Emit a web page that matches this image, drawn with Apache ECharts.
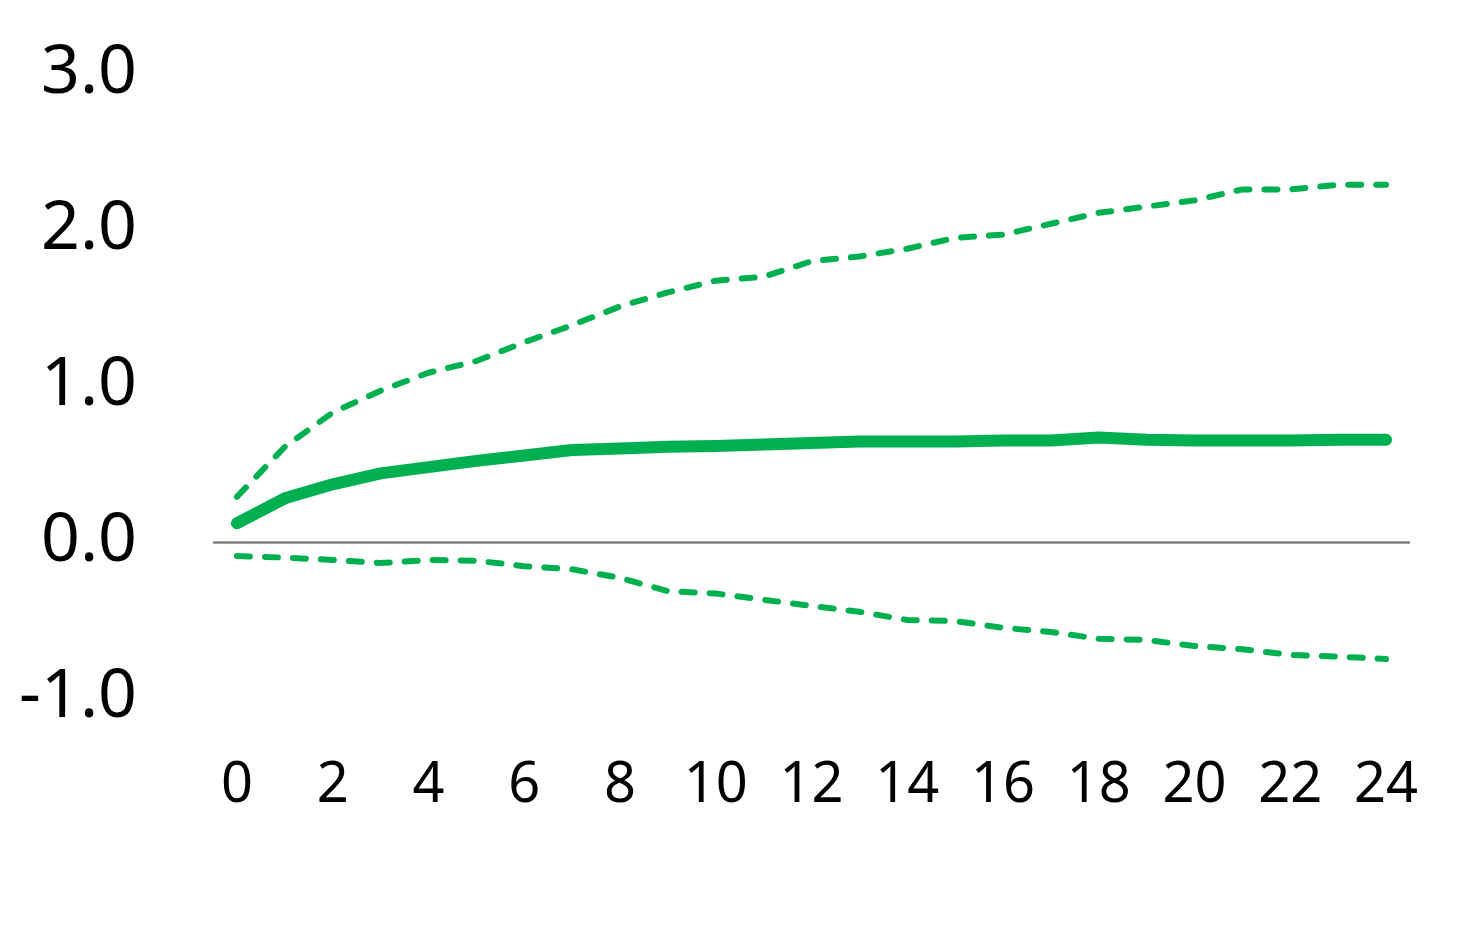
<!DOCTYPE html>
<html>
<head>
<meta charset="utf-8">
<script src="https://cdn.jsdelivr.net/npm/echarts@6/dist/echarts.min.js"></script>
<style>
html,body{margin:0;padding:0;background:#fff;}
#chart{width:1479px;height:948px;}
</style>
</head>
<body>
<div id="chart"></div>
<script>
const periods = ['0','1','2','3','4','5','6','7','8','9','10','11','12','13','14','15','16','17','18','19','20','21','22','23','24'];
const centerLine = [0.12,0.28,0.37,0.44,0.48,0.52,0.555,0.59,0.60,0.61,0.615,0.625,0.635,0.645,0.645,0.645,0.65,0.65,0.67,0.655,0.65,0.65,0.65,0.655,0.655];
const upperBand = [0.29,0.61,0.83,0.97,1.085,1.16,1.28,1.39,1.51,1.60,1.675,1.70,1.80,1.83,1.88,1.95,1.97,2.04,2.11,2.15,2.19,2.26,2.26,2.29,2.29];
const lowerBand = [-0.09,-0.10,-0.115,-0.135,-0.115,-0.12,-0.155,-0.175,-0.23,-0.315,-0.33,-0.37,-0.41,-0.447,-0.50,-0.507,-0.55,-0.577,-0.62,-0.628,-0.667,-0.687,-0.724,-0.735,-0.75];
const yMin = -1, yMax = 3, yStep = 1;

const green = '#00B050';
const chart = echarts.init(document.getElementById('chart'), null, {renderer:'canvas'});
const dashStyle = {color: green, width: 6, type: [13, 15], cap: 'round', join: 'round'};
chart.setOption({
  animation: false,
  grid: {left: 213, right: 69, top: 74, bottom: 250, containLabel: false},
  xAxis: {
    type: 'category',
    data: periods,
    boundaryGap: true,
    axisLine: {show: false, onZero: false},
    axisTick: {show: false},
    splitLine: {show: false},
    axisLabel: {interval: 1, margin: 60, fontFamily: 'Noto Sans', fontSize: 56, color: '#000'}
  },
  yAxis: {
    type: 'value',
    min: yMin, max: yMax, interval: yStep,
    axisLine: {show: false},
    axisTick: {show: false},
    splitLine: {show: false},
    axisLabel: {margin: 76, fontFamily: 'Noto Sans', fontSize: 68, color: '#000',
      padding: [6, 0, 0, 0],
      formatter: v => v.toFixed(1)}
  },
  series: [
    {type: 'line', data: upperBand, symbol: 'none', lineStyle: dashStyle, z: 2,
     markLine: {silent: true, symbol: ['none','none'], label: {show: false},
       lineStyle: {color: '#808080', width: 2.5, type: 'solid'}, data: [{yAxis: 0}]}},
    {type: 'line', data: lowerBand, symbol: 'none', lineStyle: dashStyle, z: 2},
    {type: 'line', data: centerLine, symbol: 'none', z: 3,
     lineStyle: {color: green, width: 12, cap: 'round', join: 'round'}}
  ]
});
</script>
</body>
</html>
